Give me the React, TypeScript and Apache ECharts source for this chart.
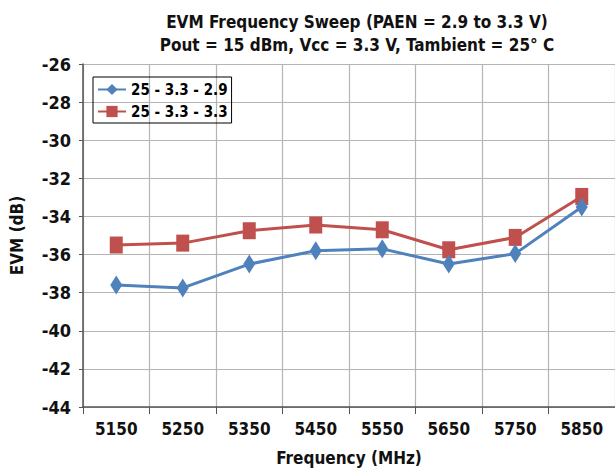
import React, { useEffect, useRef } from "react";
import * as echarts from "echarts";

const categories = ["5150", "5250", "5350", "5450", "5550", "5650", "5750", "5850"];
const seriesBlue = [-37.6, -37.75, -36.5, -35.8, -35.7, -36.5, -35.95, -33.5];
const seriesRed = [-35.5, -35.4, -34.75, -34.45, -34.7, -35.75, -35.1, -32.95];
const blueName = "25 - 3.3 - 2.9";
const redName = "25 - 3.3 - 3.3";

const FONT = "'DejaVu Sans Condensed', 'Liberation Sans', sans-serif";

export default function App() {
  const ref = useRef<HTMLDivElement>(null);
  useEffect(() => {
    if (!ref.current) return;
    const chart = echarts.init(ref.current, null, { renderer: "svg" });
    chart.setOption({
      animation: false,
      backgroundColor: "#ffffff",
      textStyle: { fontFamily: FONT },
      title: {
        text: "EVM Frequency Sweep (PAEN = 2.9 to 3.3 V)\nPout = 15 dBm, Vcc = 3.3 V, Tambient = 25° C",
        left: 352,
        textAlign: "center",
        top: 5,
        textStyle: {
          fontFamily: FONT,
          fontWeight: "bold",
          fontSize: 17,
          lineHeight: 23,
          color: "#111",
        },
      },
      legend: {
        orient: "vertical",
        left: 93,
        top: 77,
        borderColor: "#000",
        borderWidth: 1,
        padding: [5, 4, 4, 4],
        itemGap: 7,
        itemWidth: 28,
        itemHeight: 14,
        textStyle: { fontFamily: FONT, fontWeight: "bold", fontSize: 15, color: "#000" },
        data: [blueName, redName],
      },
      grid: { left: 79, right: 0, top: 64, bottom: 67, containLabel: false },
      xAxis: {
        type: "category",
        data: categories,
        boundaryGap: true,
        name: "Frequency (MHz)",
        nameLocation: "middle",
        nameGap: 42,
        nameTextStyle: { fontFamily: FONT, fontWeight: "bold", fontSize: 17, color: "#111" },
        axisLine: { lineStyle: { color: "#555", width: 1.5 } },
        axisTick: { show: true, alignWithLabel: false, length: 7, lineStyle: { color: "#555" } },
        axisLabel: { fontFamily: FONT, fontWeight: "bold", fontSize: 17, color: "#111", margin: 13 },
        splitLine: { show: true, lineStyle: { color: "#b4b4b4", width: 1.2 } },
      },
      yAxis: {
        type: "value",
        min: -44,
        max: -26,
        interval: 2,
        name: "EVM (dB)",
        nameLocation: "middle",
        nameGap: 58,
        nameRotate: 90,
        nameTextStyle: { fontFamily: FONT, fontWeight: "bold", fontSize: 17, color: "#111" },
        axisLine: { show: true, lineStyle: { color: "#555", width: 1.5 } },
        axisTick: { show: true, length: 4, lineStyle: { color: "#555" } },
        axisLabel: { fontFamily: FONT, fontWeight: "bold", fontSize: 18, color: "#111", margin: 12 },
        splitLine: { show: true, lineStyle: { color: "#b4b4b4", width: 1.2 } },
      },
      series: [
        {
          name: blueName,
          type: "line",
          data: seriesBlue,
          color: "#4F81BD",
          symbol: "diamond",
          symbolSize: [12, 19],
          lineStyle: { width: 3, color: "#4F81BD" },
          itemStyle: { color: "#4F81BD" },
          z: 3,
        },
        {
          name: redName,
          type: "line",
          data: seriesRed,
          color: "#C0504D",
          symbol: "rect",
          symbolSize: [13, 17],
          lineStyle: { width: 3, color: "#C0504D" },
          itemStyle: { color: "#C0504D" },
          z: 2,
        },
      ],
    });
    return () => chart.dispose();
  }, []);
  return (
    <div
      ref={ref}
      style={{ position: "fixed", left: 0, top: 0, width: 615, height: 474 }}
    />
  );
}
